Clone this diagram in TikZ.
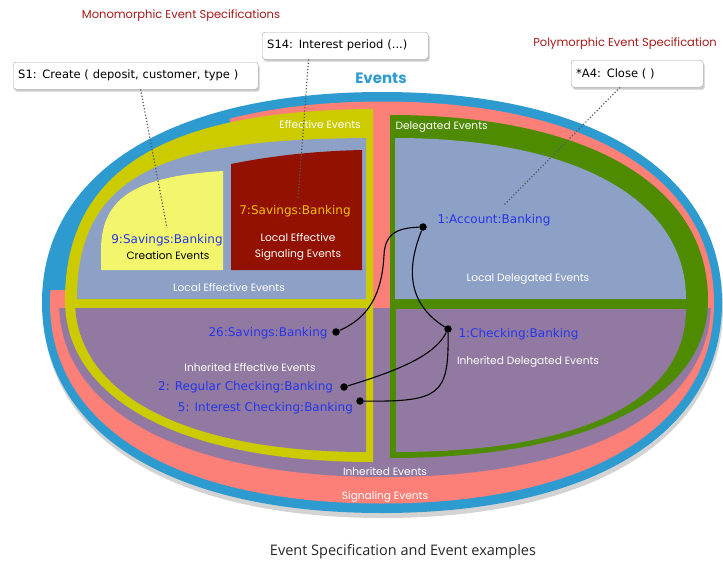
\documentclass[tikz,border=0pt]{standalone}
\usepackage{fontspec}
\setmainfont{DejaVu Sans}
\newfontfamily\futura{Poppins}
\newfontfamily\capfont{Open Sans}
\usetikzlibrary{shadows,calc}

\definecolor{evblue}{HTML}{2E9BD0}
\definecolor{sigpink}{HTML}{FC7F78}
\definecolor{effyellow}{HTML}{CBCB00}
\definecolor{localgray}{HTML}{8DA0C6}
\definecolor{createyellow}{HTML}{F3F66C}
\definecolor{signalred}{HTML}{931100}
\definecolor{inhpurple}{HTML}{9279A2}
\definecolor{delgreen}{HTML}{4E8B00}
\definecolor{labelblue}{HTML}{2536E8}
\definecolor{titlered}{HTML}{A31A1A}
\definecolor{signalgold}{HTML}{F0C000}

\tikzset{
  area label/.style={text=white, font=\futura\fontsize{10.6}{16}\selectfont},
  obj label/.style={text=labelblue, font=\fontsize{12}{14}\selectfont},
  spec title/.style={text=titlered, font=\futura\fontsize{11.5}{13}\selectfont},
  spec box/.style={draw=gray!70, fill=white, rounded corners=3pt, anchor=north west,
    minimum height=27pt, inner xsep=5pt, align=left, font=\fontsize{11.5}{13}\selectfont,
    drop shadow={shadow xshift=1.5pt, shadow yshift=-2.5pt, opacity=.4}},
  obj dot/.style={circle, fill=black, inner sep=0pt, minimum size=7.5pt},
  link/.style={line width=1.1pt, black},
  spec link/.style={dotted, line width=1.2pt, gray!70!black},
}

\begin{document}
\begin{tikzpicture}[x=1pt, y=-1pt]
 \useasboundingbox (0,0) rectangle (723,565);

 % Events / Signaling Events / Inherited Events
 \fill[evblue, drop shadow={shadow xshift=1pt, shadow yshift=-5pt, opacity=.35}]
   (42,302.5) .. controls (42,172) and (171.2,92) .. (382,92)
   .. controls (592.8,92) and (722,172) .. (722,302.5)
   .. controls (722,433) and (592.8,513) .. (382,513)
   .. controls (171.2,513) and (42,433) .. (42,302.5) -- cycle;
 \begin{scope}
   \clip (50,302.5) .. controls (50,177.9) and (176.2,101.5) .. (382,101.5)
     .. controls (587.8,101.5) and (714,177.9) .. (714,302.5)
     .. controls (714,427.1) and (587.8,503.5) .. (382,503.5)
     .. controls (176.2,503.5) and (50,427.1) .. (50,302.5) -- cycle;
   \fill[sigpink] (230,0) rectangle (723,565);
   \fill[sigpink] (0,290) rectangle (230,565);
 \end{scope}
 \begin{scope}
   \clip (59,302) -- (711,302) .. controls (711,410.5) and (587,477) .. (385,477)
     .. controls (183,477) and (59,410.5) .. (59,302) -- cycle;
   \fill[inhpurple] (0,308) rectangle (723,565);
 \end{scope}

 % Effective Events
 \begin{scope}
   \clip (0,0) rectangle (373,565);
   \fill[effyellow] (380,109) .. controls (200,109) and (65,150) .. (65,300)
     .. controls (65,400) and (182,462) .. (373,462) -- (380,462) -- cycle;
 \end{scope}
 \begin{scope}
   \clip (0,0) rectangle (366,565);
   \fill[localgray] (380,138) .. controls (180,138) and (77,165) .. (77,299) -- (380,299) -- cycle;
 \end{scope}
 \fill[createyellow] (223,171) .. controls (140,176) and (101,195) .. (101,250)
   -- (101,270) -- (223,270) -- cycle;
 \fill[signalred] (231,270) -- (231,164) .. controls (270,156) and (315,151) .. (362,150)
   -- (362,270) -- cycle;
 \begin{scope}
   \clip (0,308) rectangle (366,565);
   \fill[inhpurple] (75,300) .. controls (75,394) and (185,452) .. (366,452) -- (366,300) -- cycle;
 \end{scope}

 % Delegated Events
 \fill[delgreen] (390,115) .. controls (588,115) and (708,185) .. (708,300)
   .. controls (708,398) and (588,458) .. (390,458) -- cycle;
 \fill[localgray] (395,138) .. controls (575,138) and (686,199) .. (686,299) -- (395,299) -- cycle;
 \fill[inhpurple] (396,309) -- (686,309) .. controls (686,400) and (582,452) .. (396,452) -- cycle;

 % region names
 \node (events) [text=evblue, font=\futura\bfseries\fontsize{15}{17}\selectfont] at (381,78) {Events};
 \node (effective) [area label] at (320,124) {Effective Events};
 \node (delegated) [area label, anchor=west] at (392,127) {Delegated Events};
 \node (localeff) [area label] at (229,287) {Local Effective Events};
 \node (localsig) [area label, align=center] at (298,247) {Local Effective\\Signaling Events};
 \node (creation) [font=\futura\fontsize{10.6}{12}\selectfont] at (168,256) {Creation Events};
 \node (localdel) [area label] at (528,279) {Local Delegated Events};
 \node (inheff) [area label] at (250,367) {Inherited Effective Events};
 \node (inhdel) [area label] at (528,362) {Inherited Delegated Events};
 \node (inherited) [area label] at (385,472) {Inherited Events};
 \node (signaling) [area label] at (385,497) {Signaling Events};

 % objects
 \node (sav9) [obj label] at (167,240) {9:Savings:Banking};
 \node (sav7) [obj label, text=signalgold] at (295,211) {7:Savings:Banking};
 \node (acctlbl) [obj label, anchor=west] at (434,220) {1:Account:Banking};
 \node (sav26lbl) [obj label, anchor=east] at (331,333) {26:Savings:Banking};
 \node (reglbl) [obj label, anchor=east] at (336.5,387) {2: Regular Checking:Banking};
 \node (intlbl) [obj label, anchor=east] at (356.5,408) {5: Interest Checking:Banking};
 \node (chklbl) [obj label, anchor=west] at (455,334) {1:Checking:Banking};

 \node (acct) [obj dot] at (423,227) {};
 \node (chk) [obj dot] at (448,329) {};
 \node (sav26) [obj dot] at (336,332) {};
 \node (reg) [obj dot] at (344,387) {};
 \node (int) [obj dot] at (360,401) {};

 \draw[link] (sav26) .. controls (368,318) and (382,295) .. (384,255)
   .. controls (385,235) and (395,228) .. (acct);
 \draw[link] (acct) .. controls (410,260) and (402,300) .. (chk);
 \draw[link] (chk) .. controls (435,355) and (400,370) .. (reg);
 \draw[link] (chk) .. controls (449,395) and (440,402) .. (int);

 % specifications
 \node (mono) [spec title] at (181,16) {Monomorphic Event Specifications};
 \node (poly) [spec title] at (625,44) {Polymorphic Event Specification};
 \node (s1box) [spec box, text width=235pt] at (13,62) {S1: Create ( deposit, customer, type )};
 \node (s14box) [spec box, text width=156pt] at (262,32) {S14: Interest period (...)};
 \node (a4box) [spec box, text width=122pt] at (571,60) {*A4: Close ( )};

 \coordinate (s1tip) at (167,228);
 \coordinate (s14tip) at (298,198);
 \coordinate (a4tip) at (504,205);
 \draw[spec link] ($(s1box.south west)!0.52!(s1box.south east)$) -- (s1tip);
 \draw[spec link] ($(s14box.south west)!0.28!(s14box.south east)$) -- (s14tip);
 \draw[spec link] ($(a4box.south west)!0.37!(a4box.south east)$) -- (a4tip);

 \node (caption) [font=\capfont\fontsize{14.5}{17}\selectfont, text=black!85] at (403,552)
   {Event Specification and Event examples};
\end{tikzpicture}
\end{document}
